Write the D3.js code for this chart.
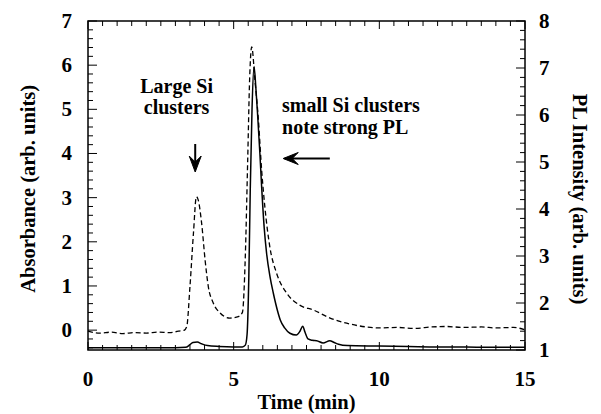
<!DOCTYPE html>
<html>
<head>
<meta charset="utf-8">
<script src="https://cdn.jsdelivr.net/npm/d3@7"></script>
<style>
  body { margin: 0; background: #fff; }
  text { font-family: "Liberation Serif", "Times New Roman", serif; font-weight: bold; fill: #000; }
  .frame { fill: none; stroke: #000; stroke-width: 1.5; }
  .tick-line { stroke: #000; stroke-width: 1; }
  .abs-line { fill: none; stroke: #000; stroke-width: 1.5; }
  .pl-line { fill: none; stroke: #000; stroke-width: 1.3; stroke-dasharray: 5,3; }
</style>
</head>
<body>
<div id="chart-area"></div>
<script>
// absorbance trace (solid, left axis)
let absTime = [0, 1, 2, 3, 3.35, 3.5, 3.6, 3.75, 3.9, 4.1, 4.5, 5.0, 5.3, 5.4, 5.46, 5.52, 5.57, 5.63, 5.7,
  5.76, 5.82, 5.9, 5.96, 6.05, 6.13, 6.25, 6.36, 6.5, 6.6, 6.75, 6.93, 7.15, 7.28, 7.37, 7.45, 7.55, 7.7,
  7.85, 8.07, 8.3, 8.45, 8.6, 8.9, 10, 11, 12, 13, 14, 15];
let absValues = [-0.40, -0.40, -0.40, -0.40, -0.39, -0.33, -0.28, -0.27, -0.31, -0.35, -0.37, -0.38, -0.38, -0.34, -0.1, 1.2, 3.2, 5.0, 5.97,
  5.5, 4.9, 4.0, 3.25, 2.3, 1.74, 1.2, 0.84, 0.45, 0.23, 0.05, -0.07, -0.11, -0.02, 0.09, -0.05, -0.2, -0.23,
  -0.24, -0.29, -0.24, -0.28, -0.32, -0.35, -0.36, -0.37, -0.38, -0.38, -0.39, -0.39];

// PL trace (dashed, right axis)
let plTime = [0, 0.4, 0.8, 1.2, 1.6, 2.0, 2.4, 2.8, 3.1, 3.3, 3.39, 3.5, 3.62, 3.72, 3.78, 3.9, 4.02, 4.13, 4.3,
  4.53, 4.87, 5.16, 5.3, 5.4, 5.48, 5.55, 5.62, 5.73, 5.85, 5.96, 6.07, 6.24, 6.47, 6.82, 7.28, 7.74, 8.31,
  8.88, 9.56, 10.0, 10.6, 11.2, 11.8, 12.3, 12.9, 13.5, 14.0, 14.6, 15];
let plValues = [1.40, 1.36, 1.38, 1.35, 1.37, 1.36, 1.38, 1.37, 1.40, 1.42, 1.5, 2.35, 3.49, 4.26, 4.2, 3.7, 2.91, 2.35, 2.0,
  1.79, 1.68, 1.71, 1.8, 3.0, 5.0, 6.8, 7.45, 6.74, 5.89, 4.83, 4.05, 3.2, 2.64, 2.21, 1.95, 1.85, 1.68,
  1.57, 1.49, 1.47, 1.48, 1.46, 1.49, 1.50, 1.48, 1.49, 1.47, 1.48, 1.43];

let xTicks = [0, 5, 10, 15];
let leftTicks = [0, 1, 2, 3, 4, 5, 6, 7];
let rightTicks = [1, 2, 3, 4, 5, 6, 7, 8];

let margin = { top: 21, right: 76, bottom: 64, left: 88 },
  width = 601 - margin.left - margin.right,
  height = 414 - margin.top - margin.bottom;

let xScale = d3.scaleLinear().domain([0, 15]).range([0, width]);
let yLeft = d3.scaleLinear().domain([-0.45, 7]).range([height, 0]);
let yRight = d3.scaleLinear().domain([1, 8]).range([height, 0]);

let svg = d3
  .select("#chart-area")
  .append("svg")
  .attr("width", 601)
  .attr("height", 414)
  .append("g")
  .attr("transform", "translate(" + margin.left + "," + margin.top + ")");

// inward ticks on all four sides
function range(a, b, step) {
  return d3.range(Math.round(a / step), Math.round(b / step) + 1).map(i => +(i * step).toFixed(3));
}

range(0, 15, 0.5).forEach(t => {
  let len = xTicks.includes(t) ? 8 : 5;
  svg.append("line").attr("class", "tick-line")
    .attr("x1", xScale(t)).attr("x2", xScale(t))
    .attr("y1", height).attr("y2", height - len);
  svg.append("line").attr("class", "tick-line")
    .attr("x1", xScale(t)).attr("x2", xScale(t))
    .attr("y1", 0).attr("y2", len);
});

range(-0.4, 7, 0.2).forEach(v => {
  let len = leftTicks.includes(v) ? 9 : 5;
  svg.append("line").attr("class", "tick-line")
    .attr("x1", 0).attr("x2", len)
    .attr("y1", yLeft(v)).attr("y2", yLeft(v));
});

range(1, 8, 0.2).forEach(v => {
  let len = rightTicks.includes(v) ? 9 : 5;
  svg.append("line").attr("class", "tick-line")
    .attr("x1", width).attr("x2", width - len)
    .attr("y1", yRight(v)).attr("y2", yRight(v));
});

// tick labels
svg.selectAll(".xlab").data(xTicks).enter().append("text")
  .attr("x", d => xScale(d)).attr("y", height + 36)
  .attr("text-anchor", "middle").style("font-size", "21px")
  .text(d => d);

svg.selectAll(".llab").data(leftTicks).enter().append("text")
  .attr("x", -16).attr("y", d => yLeft(d) + 7)
  .attr("text-anchor", "end").style("font-size", "21px")
  .text(d => d);

svg.selectAll(".rlab").data(rightTicks).enter().append("text")
  .attr("x", width + 14).attr("y", d => yRight(d) + 7)
  .attr("text-anchor", "start").style("font-size", "21px")
  .text(d => d);

// axis titles
svg.append("text")
  .attr("transform", "translate(-53," + yLeft(3.2) + ") rotate(-90)")
  .attr("text-anchor", "middle").style("font-size", "20.5px")
  .text("Absorbance (arb. units)");

svg.append("text")
  .attr("transform", "translate(" + (width + 48) + ",178) rotate(90)")
  .attr("text-anchor", "middle").style("font-size", "20.5px")
  .text("PL Intensity (arb. units)");

svg.append("text")
  .attr("x", xScale(7.5)).attr("y", height + 59)
  .attr("text-anchor", "middle").style("font-size", "20.5px")
  .text("Time (min)");

// lines
let absLine = d3.line()
  .x((d, i) => xScale(absTime[i]))
  .y(d => yLeft(d))
  .curve(d3.curveMonotoneX);

let plLine = d3.line()
  .x((d, i) => xScale(plTime[i]))
  .y(d => yRight(d))
  .curve(d3.curveMonotoneX);

svg.append("path").datum(plValues).attr("class", "pl-line").attr("d", plLine);
svg.append("path").datum(absValues).attr("class", "abs-line").attr("d", absLine);

// frame
svg.append("rect").attr("class", "frame")
  .attr("x", 0).attr("y", 0).attr("width", width).attr("height", height);

// annotations
let largeX = xScale(3.04);
svg.append("text").attr("x", largeX).attr("y", 72)
  .attr("text-anchor", "middle").style("font-size", "20px").text("Large Si");
svg.append("text").attr("x", largeX).attr("y", 93)
  .attr("text-anchor", "middle").style("font-size", "20px").text("clusters");

let downX = xScale(3.68);
svg.append("line").attr("x1", downX).attr("x2", downX)
  .attr("y1", 123).attr("y2", 148)
  .attr("stroke", "#000").attr("stroke-width", 2);
svg.append("path")
  .attr("d", "M" + (downX - 6) + ",135 L" + downX + ",151 L" + (downX + 6) + ",135 L" + downX + ",141 Z")
  .attr("fill", "#000").attr("stroke", "#000").attr("stroke-width", 1);

let smallX = xScale(6.66);
svg.append("text").attr("x", smallX).attr("y", 91)
  .attr("text-anchor", "start").style("font-size", "20px").text("small Si clusters");
svg.append("text").attr("x", smallX).attr("y", 113)
  .attr("text-anchor", "start").style("font-size", "20px").text("note strong PL");

let arrowY = 137.5;
svg.append("line").attr("x1", xScale(6.75)).attr("x2", xScale(8.3))
  .attr("y1", arrowY).attr("y2", arrowY)
  .attr("stroke", "#000").attr("stroke-width", 2);
let tipX = xScale(6.7);
svg.append("path")
  .attr("d", "M" + (tipX + 15) + "," + (arrowY - 6) + " L" + tipX + "," + arrowY + " L" + (tipX + 15) + "," + (arrowY + 6) + " L" + (tipX + 9) + "," + arrowY + " Z")
  .attr("fill", "#000").attr("stroke", "#000").attr("stroke-width", 1);
</script>
</body>
</html>
